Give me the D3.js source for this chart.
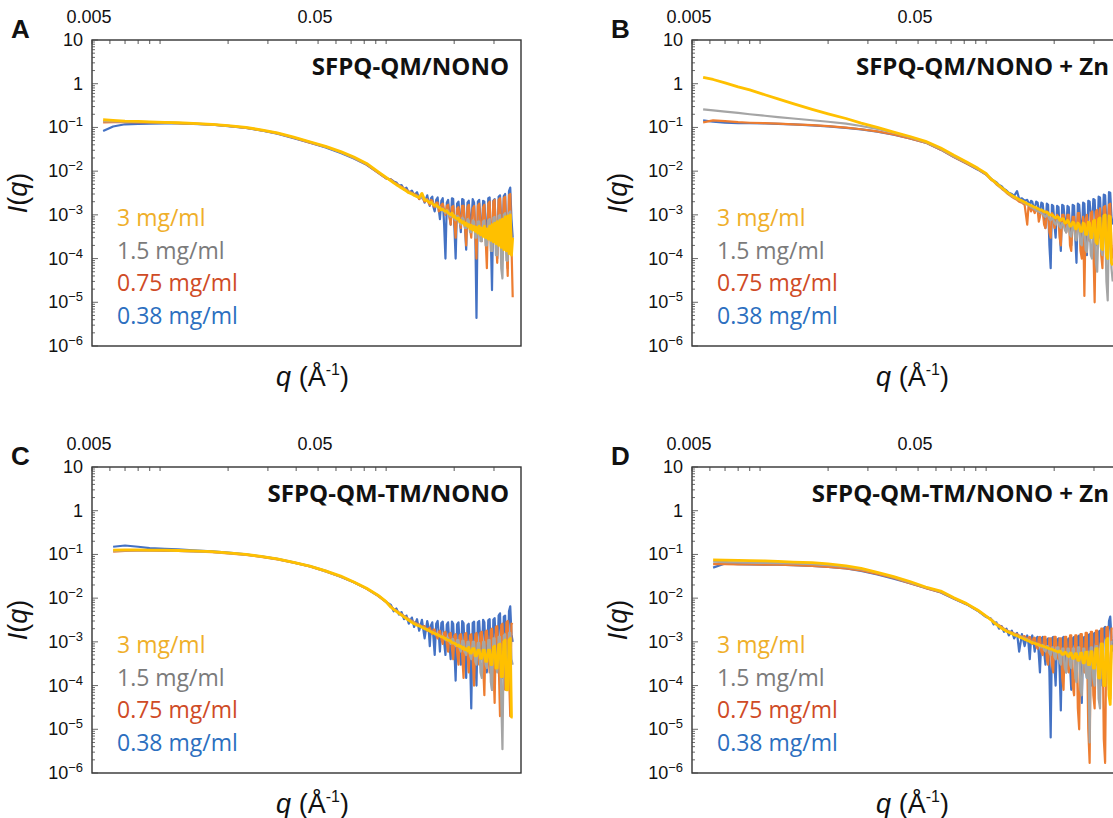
<!DOCTYPE html>
<html>
<head>
<meta charset="utf-8">
<script src="https://cdn.jsdelivr.net/npm/d3@7"></script>
<style>
  body { margin: 0; background: #fff; }
  svg { display: block; }
  .tick-label { font-family: "Liberation Sans", Arial, sans-serif; font-size: 18px; fill: #111; }
  .panel-letter { font-family: "Liberation Sans", Arial, sans-serif; font-size: 26px; font-weight: bold; fill: #111; }
  .panel-title { font-family: "Open Sans", sans-serif; font-size: 24px; font-weight: bold; fill: #111; }
  .legend-text { font-family: "Open Sans", sans-serif; font-size: 23px; }
  .axis-title { font-family: "Liberation Sans", Arial, sans-serif; font-size: 27px; fill: #111; }
</style>
</head>
<body>
<div id="chart"></div>
<script>
// scattering vector q (1/Å), shared by every curve
const qValues = [
  0.0056, 0.0062, 0.007, 0.008, 0.009, 0.0105, 0.012, 0.014, 0.017, 0.02,
  0.024, 0.028, 0.033, 0.039, 0.046, 0.054, 0.063, 0.072, 0.082, 0.092, 0.1,
  0.105, 0.108, 0.111, 0.114, 0.117, 0.12, 0.123, 0.126, 0.13, 0.133, 0.137, 0.14, 0.144, 0.148,
  0.152, 0.154, 0.156, 0.158, 0.16, 0.162, 0.164, 0.1665, 0.169, 0.171,
  0.173, 0.1755, 0.178, 0.1805, 0.183, 0.1855, 0.188, 0.1905, 0.193, 0.1955,
  0.198, 0.2005, 0.203, 0.206, 0.209, 0.2115, 0.214, 0.217, 0.22, 0.223,
  0.226, 0.229, 0.232, 0.235, 0.238, 0.2415, 0.245, 0.248, 0.251, 0.2545,
  0.258, 0.2615, 0.265, 0.2685, 0.272, 0.2755, 0.279, 0.283, 0.287, 0.2905,
  0.294, 0.298, 0.302, 0.306, 0.31, 0.3145, 0.319, 0.323, 0.327, 0.3315,
  0.336, 0.3405, 0.345, 0.3495, 0.354, 0.3585, 0.363
];

const seriesLabels = ["3 mg/ml", "1.5 mg/ml", "0.75 mg/ml", "0.38 mg/ml"];
const panelLetters = ["A", "B", "C", "D"];
const panelTitles = ["SFPQ-QM/NONO", "SFPQ-QM/NONO + Zn", "SFPQ-QM-TM/NONO", "SFPQ-QM-TM/NONO + Zn"];
const yTickValues = [10, 1, 1e-1, 1e-2, 1e-3, 1e-4, 1e-5, 1e-6];
const xTickLabels = [0.005, 0.05];

// Panel A: SFPQ-QM/NONO
const aYellow = [
  0.15, 0.145, 0.14, 0.137, 0.134, 0.131, 0.128, 0.124, 0.118, 0.11,
  0.1, 0.088, 0.075, 0.06, 0.047, 0.037, 0.028, 0.021, 0.015, 0.0098, 0.0072,
  6e-3, 5.4e-3, 4.9e-3, 4.5e-3, 4.1e-3, 3.8e-3, 3.5e-3, 3.2e-3, 3e-3, 2.8e-3, 2.6e-3, 2.5e-3, 3.1e-3, 2.2e-3,
  2.1e-3, 2e-3, 1.9e-3, 1.95e-3, 1.8e-3, 1.7e-3, 1.65e-3, 1.7e-3, 1.55e-3, 1.5e-3,
  1.45e-3, 1.3e-3, 1.35e-3, 1.25e-3, 1.2e-3, 1.25e-3, 1.1e-3, 1.05e-3, 1e-3, 1.1e-3,
  9e-4, 9.5e-4, 8.5e-4, 8e-4, 8.5e-4, 7e-4, 7.5e-4, 6.5e-4, 7e-4, 5.8e-4,
  6.5e-4, 5.5e-4, 6e-4, 4.8e-4, 5.8e-4, 4.5e-4, 5.5e-4, 4.2e-4, 5.2e-4, 3.8e-4,
  5.5e-4, 3.5e-4, 5e-4, 3.2e-4, 5.5e-4, 3e-4, 4.8e-4, 2.8e-4, 5.5e-4, 2.6e-4,
  6e-4, 2.4e-4, 6.5e-4, 2.2e-4, 7e-4, 2e-4, 7.5e-4, 1.8e-4, 8e-4, 1.6e-4,
  9e-4, 1.5e-4, 9.5e-4, 1.3e-4, 1e-3, 1.2e-4, 3e-4
];
const aGray = [
  0.14, 0.138, 0.136, 0.134, 0.132, 0.13, 0.127, 0.123, 0.117, 0.109,
  0.099, 0.087, 0.074, 0.059, 0.046, 0.036, 0.027, 0.02, 0.0145, 0.0095, 0.007,
  6.2e-3, 5.5e-3, 5e-3, 4.6e-3, 4.2e-3, 3.9e-3, 3.6e-3, 3.3e-3, 3.1e-3, 2.9e-3, 2.7e-3, 2.6e-3, 2.4e-3, 2.3e-3,
  2.2e-3, 2.05e-3, 2e-3, 1.85e-3, 1.9e-3, 1.7e-3, 1.75e-3, 1.55e-3, 1.6e-3, 1.45e-3,
  1.5e-3, 1.3e-3, 1.4e-3, 1.2e-3, 1.1e-3, 1.3e-3, 1.25e-3, 9.5e-4, 9e-4, 1.1e-3,
  1.05e-3, 8e-4, 7.5e-4, 9.5e-4, 9e-4, 6.5e-4, 6e-4, 8.5e-4, 8e-4, 5e-4,
  5e-4, 8e-4, 7.5e-4, 4e-4, 4e-4, 7.5e-4, 7e-4, 3e-4, 3e-4, 7e-4,
  7e-4, 2.5e-4, 2.5e-4, 7e-4, 7.5e-4, 2e-4, 2e-4, 7.5e-4, 8e-4, 1.5e-4,
  1.5e-4, 8.5e-4, 9e-4, 1.2e-4, 1.2e-4, 9.5e-4, 1e-3, 6e-5, 3.5e-5, 1e-3,
  1.1e-3, 9e-5, 9e-5, 1.1e-3, 1.2e-3, 2e-4, 2e-4
];
const aOrange = [
  0.13, 0.132, 0.132, 0.131, 0.13, 0.128, 0.126, 0.122, 0.116, 0.108,
  0.098, 0.086, 0.073, 0.058, 0.045, 0.036, 0.027, 0.02, 0.0142, 0.0093, 0.0068,
  6.4e-3, 5.6e-3, 5.2e-3, 4.7e-3, 4.4e-3, 4e-3, 3.7e-3, 3.4e-3, 3.2e-3, 3e-3, 2.8e-3, 2.3e-3, 2.6e-3, 2e-3,
  2.3e-3, 1.9e-3, 1.7e-3, 2.2e-3, 2.1e-3, 1.6e-3, 1.5e-3, 1.9e-3, 1.9e-3, 1.2e-3,
  1.3e-3, 1.7e-3, 1.8e-3, 1.3e-3, 1e-3, 1.6e-3, 1.7e-3, 9e-4, 6e-4, 1.5e-3,
  1.6e-3, 7e-4, 3e-4, 1.4e-3, 1.5e-3, 8e-4, 5e-4, 1.6e-3, 1.6e-3, 6e-4,
  2e-4, 1.5e-3, 1.7e-3, 5e-4, 3e-4, 1.4e-3, 1.6e-3, 4e-4, 1e-4, 1.6e-3,
  1.8e-3, 6e-4, 2.5e-4, 1.5e-3, 1.7e-3, 3e-4, 6e-5, 1.8e-3, 2e-3, 4e-4,
  1.5e-4, 2e-3, 2.2e-3, 3e-4, 8e-5, 2.2e-3, 2.4e-3, 5e-4, 1.2e-4, 2.4e-3,
  2.6e-3, 2e-4, 4e-5, 2.8e-3, 3e-3, 2e-4, 1.3e-5
];
const aBlue = [
  0.083, 0.105, 0.118, 0.12, 0.122, 0.123, 0.124, 0.12, 0.115, 0.107,
  0.097, 0.085, 0.072, 0.057, 0.045, 0.035, 0.026, 0.0195, 0.014, 0.0092, 0.0068,
  6.5e-3, 5.8e-3, 5.5e-3, 4.6e-3, 4.8e-3, 3.8e-3, 4.2e-3, 3.2e-3, 3.6e-3, 2.8e-3, 3.3e-3, 2.3e-3, 3e-3, 1.9e-3,
  2.8e-3, 2e-3, 1.6e-3, 2.4e-3, 2.6e-3, 1.5e-3, 1.2e-3, 2.2e-3, 2.5e-3, 1.3e-3,
  8e-4, 2.1e-3, 2.4e-3, 6e-4, 1e-4, 1.9e-3, 2.2e-3, 1e-3, 6e-4, 2.4e-3,
  2.3e-3, 5e-4, 1e-4, 1.8e-3, 2e-3, 9e-4, 4e-4, 2.3e-3, 2.2e-3, 6e-4,
  1.6e-4, 1.9e-3, 2.1e-3, 8e-4, 5e-4, 2.3e-3, 1.9e-3, 4e-4, 4.4e-6, 2e-3,
  2.2e-3, 7e-4, 3e-4, 2.1e-3, 2e-3, 6e-4, 2e-4, 2.4e-3, 2.5e-3, 3e-4,
  1.9e-5, 2.1e-3, 2.3e-3, 4e-4, 1e-4, 2.6e-3, 2.8e-3, 7e-4, 3e-4, 2.7e-3,
  3e-3, 4e-4, 6e-5, 3.5e-3, 4.2e-3, 8e-4, 3e-4
];

// Panel B: SFPQ-QM/NONO + Zn
const bYellow = [
  1.4, 1.25, 1.05, 0.85, 0.72, 0.56, 0.45, 0.35, 0.26, 0.205,
  0.16, 0.125, 0.1, 0.078, 0.062, 0.048, 0.034, 0.023, 0.0162, 0.0116, 0.0089,
  6.6e-3, 6e-3, 5.3e-3, 4.7e-3, 4.2e-3, 3.8e-3, 3.4e-3, 3.1e-3, 2.8e-3, 2.6e-3, 2.4e-3, 2.25e-3, 2.1e-3, 1.95e-3,
  1.8e-3, 1.75e-3, 1.7e-3, 1.62e-3, 1.6e-3, 1.52e-3, 1.5e-3, 1.45e-3, 1.4e-3, 1.35e-3,
  1.3e-3, 1.3e-3, 1.25e-3, 1.18e-3, 1.15e-3, 1.15e-3, 1.1e-3, 1e-3, 1e-3, 1e-3,
  9.5e-4, 8.8e-4, 8.5e-4, 9e-4, 8.8e-4, 7.5e-4, 7.6e-4, 8.2e-4, 8e-4, 6.5e-4,
  6.6e-4, 7.5e-4, 7e-4, 5.5e-4, 5.6e-4, 6.8e-4, 6.5e-4, 4.8e-4, 4.8e-4, 6.5e-4,
  6e-4, 4.2e-4, 4.2e-4, 6.5e-4, 6.2e-4, 3.6e-4, 3.6e-4, 6.8e-4, 6.5e-4, 3e-4,
  3e-4, 7.2e-4, 7.5e-4, 2.4e-4, 2.2e-4, 8e-4, 8.5e-4, 1.8e-4, 1.6e-4, 9.5e-4,
  1e-3, 1.2e-4, 1e-4, 9.5e-4, 9e-4, 8e-5, 7e-5
];
const bGray = [
  0.26, 0.245, 0.23, 0.215, 0.2, 0.185, 0.172, 0.16, 0.146, 0.135,
  0.122, 0.108, 0.092, 0.076, 0.06, 0.046, 0.032, 0.0215, 0.0155, 0.0112, 0.0086,
  6.5e-3, 5.9e-3, 5.2e-3, 4.6e-3, 4.1e-3, 3.7e-3, 3.3e-3, 3e-3, 2.7e-3, 2.5e-3, 2.3e-3, 2.2e-3, 2e-3, 1.85e-3,
  1.7e-3, 1.65e-3, 1.6e-3, 1.5e-3, 1.45e-3, 1.4e-3, 1.35e-3, 1.25e-3, 1.2e-3, 1.2e-3,
  1.15e-3, 1.1e-3, 1.05e-3, 9.5e-4, 9e-4, 1e-3, 9.5e-4, 8e-4, 7.5e-4, 8.5e-4,
  8e-4, 6.5e-4, 6e-4, 7.5e-4, 7e-4, 5.5e-4, 5e-4, 6.5e-4, 6e-4, 4.5e-4,
  4e-4, 5.8e-4, 5.5e-4, 3.5e-4, 3.2e-4, 5.5e-4, 5e-4, 2.8e-4, 2.6e-4, 5.5e-4,
  5.5e-4, 2.2e-4, 2e-4, 5e-4, 4.5e-4, 1.6e-4, 1.4e-4, 5e-4, 5e-4, 1.2e-4,
  1e-4, 5.5e-4, 6e-4, 8e-5, 5e-5, 6.5e-4, 7e-4, 1.5e-4, 1.2e-4, 6.5e-4,
  6e-4, 3e-5, 1.1e-5, 7e-4, 8e-4, 6e-5, 3e-5
];
const bOrange = [
  0.13, 0.145, 0.14, 0.132, 0.128, 0.125, 0.122, 0.118, 0.113, 0.107,
  0.099, 0.091, 0.081, 0.069, 0.056, 0.045, 0.031, 0.021, 0.015, 0.011, 0.0084,
  6.4e-3, 5.8e-3, 5e-3, 4.5e-3, 4e-3, 3.6e-3, 3.2e-3, 2.9e-3, 2.6e-3, 2.4e-3, 2.2e-3, 2e-3, 1.9e-3, 1.7e-3,
  6e-4, 1.6e-3, 1.5e-3, 1.2e-3, 1.5e-3, 1.3e-3, 1.1e-3, 1.4e-3, 1.3e-3, 7e-4,
  9e-4, 1.3e-3, 1.2e-3, 6e-4, 5e-4, 1.2e-3, 1.1e-3, 4e-4, 3e-4, 1.1e-3,
  1e-3, 5e-4, 6e-4, 1e-3, 9e-4, 3e-4, 2e-4, 1e-3, 1e-3, 5e-4,
  4e-4, 1e-3, 1e-3, 2e-4, 1.5e-4, 9e-4, 9e-4, 4e-4, 3e-4, 1.1e-3,
  1.1e-3, 1.5e-4, 1e-4, 9e-4, 1.4e-5, 8e-4, 1e-3, 3e-4, 2.5e-4, 1.1e-3,
  1.2e-3, 2e-4, 1e-5, 1.2e-3, 1.3e-3, 3e-4, 1.4e-3, 1.2e-4, 6e-5, 1.5e-3,
  1.6e-3, 3e-4, 2e-4, 1.7e-3, 1.8e-3, 2e-4, 1e-4
];
const bBlue = [
  0.145, 0.135, 0.128, 0.126, 0.125, 0.123, 0.12, 0.117, 0.112, 0.106,
  0.098, 0.09, 0.08, 0.068, 0.056, 0.045, 0.031, 0.021, 0.015, 0.0108, 0.0083,
  6.8e-3, 6e-3, 5.6e-3, 4.8e-3, 4.5e-3, 3.9e-3, 3.6e-3, 3.2e-3, 3e-3, 2.7e-3, 3.5e-3, 2.3e-3, 2.4e-3, 2.1e-3,
  2.2e-3, 1.9e-3, 1.7e-3, 2.1e-3, 2e-3, 1.5e-3, 1.4e-3, 2e-3, 1.9e-3, 1.2e-3,
  1.1e-3, 1.9e-3, 1.8e-3, 8e-4, 5e-4, 1.8e-3, 1.7e-3, 2e-4, 6e-5, 1.7e-3,
  1.6e-3, 6e-4, 3e-4, 1.6e-3, 1.5e-3, 4e-4, 1.5e-4, 1.7e-3, 1.6e-3, 7e-4,
  4e-4, 1.6e-3, 1.5e-3, 5e-4, 2e-4, 1.7e-3, 1.6e-3, 3e-4, 8e-5, 1.8e-3,
  1.7e-3, 6e-4, 3e-4, 1.9e-3, 1.8e-3, 4e-4, 1.2e-4, 2.1e-3, 2e-3, 8e-4,
  5e-4, 2.3e-3, 2.2e-3, 5e-4, 2e-4, 2.6e-3, 2.5e-3, 7e-4, 4e-4, 2.9e-3,
  2.8e-3, 6e-4, 3e-4, 3.3e-3, 3.2e-3, 9e-4, 6e-4
];

// Panel C: SFPQ-QM-TM/NONO
const cYellow = [
  null, 0.125, 0.127, 0.127, 0.126, 0.125, 0.123, 0.12, 0.116, 0.109,
  0.1, 0.09, 0.079, 0.066, 0.054, 0.042, 0.032, 0.0235, 0.0168, 0.0117, 0.0083,
  6.2e-3, 5.5e-3, 5e-3, 4.5e-3, 4.1e-3, 3.7e-3, 3.4e-3, 3.1e-3, 2.8e-3, 2.6e-3, 2.4e-3, 2.3e-3, 2.15e-3, 2e-3,
  1.9e-3, 1.85e-3, 1.75e-3, 1.7e-3, 1.65e-3, 1.6e-3, 1.55e-3, 1.5e-3, 1.45e-3, 1.4e-3,
  1.35e-3, 1.3e-3, 1.3e-3, 1.22e-3, 1.2e-3, 1.12e-3, 1.1e-3, 1.08e-3, 1.05e-3, 9.5e-4,
  9.5e-4, 9.2e-4, 9e-4, 8.2e-4, 8.5e-4, 7.8e-4, 8e-4, 7e-4, 7.5e-4, 6.6e-4,
  7e-4, 6.2e-4, 7.5e-4, 5.5e-4, 5.5e-4, 7e-4, 7e-4, 4.8e-4, 4.8e-4, 6.5e-4,
  6.5e-4, 4.2e-4, 4.2e-4, 6.5e-4, 6.5e-4, 3.6e-4, 3.6e-4, 6.5e-4, 6.5e-4, 3e-4,
  3e-4, 7.5e-4, 8e-4, 2.5e-4, 2.5e-4, 8.5e-4, 9e-4, 1.6e-4, 1.6e-4, 1e-3,
  1.1e-3, 8e-5, 8e-5, 1.1e-3, 1.2e-3, 1.9e-5, 1.9e-5
];
const cGray = [
  null, 0.12, 0.123, 0.124, 0.124, 0.123, 0.121, 0.118, 0.114, 0.107,
  0.099, 0.089, 0.078, 0.065, 0.053, 0.041, 0.031, 0.023, 0.0165, 0.0115, 0.0082,
  6.3e-3, 5.6e-3, 5.1e-3, 4.6e-3, 4.2e-3, 3.8e-3, 3.5e-3, 3.2e-3, 2.9e-3, 2.7e-3, 2.5e-3, 2.4e-3, 2.2e-3, 2.1e-3,
  1.9e-3, 1.85e-3, 1.8e-3, 1.7e-3, 1.7e-3, 1.65e-3, 1.6e-3, 1.5e-3, 1.5e-3, 1.45e-3,
  1.4e-3, 1.3e-3, 1.35e-3, 1.2e-3, 1.1e-3, 1.25e-3, 1.25e-3, 1e-3, 9e-4, 1.15e-3,
  1.15e-3, 9e-4, 8e-4, 1.1e-3, 1.1e-3, 7e-4, 6e-4, 1.05e-3, 1.05e-3, 6e-4,
  5e-4, 1e-3, 1e-3, 5e-4, 4e-4, 1e-3, 1e-3, 3.5e-4, 3e-4, 9.5e-4,
  9.5e-4, 2e-4, 1.5e-4, 1e-3, 1e-3, 3e-4, 2.5e-4, 1.1e-3, 1.1e-3, 1.2e-4,
  8e-5, 1.2e-3, 1.2e-3, 3e-4, 2e-4, 1.3e-3, 1.3e-3, 5e-5, 3.5e-6, 1.4e-3,
  1.5e-3, 2e-4, 1e-4, 1.6e-3, 1.6e-3, 4e-4, 3e-4
];
const cOrange = [
  null, 0.115, 0.12, 0.122, 0.122, 0.121, 0.12, 0.117, 0.113, 0.106,
  0.098, 0.088, 0.077, 0.065, 0.053, 0.041, 0.031, 0.023, 0.0163, 0.0113, 0.0081,
  6.4e-3, 5.7e-3, 5.2e-3, 4.7e-3, 4.3e-3, 3.9e-3, 3.6e-3, 3.3e-3, 3e-3, 2.8e-3, 2.6e-3, 2.5e-3, 2.2e-3, 2.3e-3,
  1.8e-3, 2e-3, 2.1e-3, 1.7e-3, 1.5e-3, 1.9e-3, 1.9e-3, 1.4e-3, 1.2e-3, 1.7e-3,
  1.8e-3, 1.2e-3, 9e-4, 1.6e-3, 1.7e-3, 9e-4, 6e-4, 1.5e-3, 1.6e-3, 7e-4,
  4e-4, 1.4e-3, 1.5e-3, 6e-4, 3e-4, 1.4e-3, 1.5e-3, 5e-4, 1.5e-4, 1.5e-3,
  1.6e-3, 6e-4, 2e-4, 1.4e-3, 1.5e-3, 4e-4, 1e-4, 1.5e-3, 1.6e-3, 7e-4,
  3e-4, 1.6e-3, 1.7e-3, 3e-4, 6e-5, 1.7e-3, 1.8e-3, 6e-4, 2e-4, 1.9e-3,
  2e-3, 3e-4, 4e-5, 2.2e-3, 2.3e-3, 4e-4, 2e-5, 2.4e-3, 2.6e-3, 5e-4,
  8e-5, 2.8e-3, 3e-3, 2e-4, 2e-5, 2.6e-3, 2.5e-3
];
const cBlue = [
  null, 0.15, 0.16, 0.15, 0.14, 0.134, 0.13, 0.124, 0.118, 0.11,
  0.1, 0.09, 0.079, 0.066, 0.054, 0.042, 0.031, 0.023, 0.0165, 0.0115, 0.0082,
  7e-3, 5e-3, 5.8e-3, 4.2e-3, 4.8e-3, 3.3e-3, 4e-3, 2.6e-3, 3.6e-3, 2.2e-3, 3.3e-3, 1.8e-3, 3.2e-3, 1.2e-3,
  3e-3, 2.2e-3, 8e-4, 2.4e-3, 2.8e-3, 1.2e-3, 5e-4, 2.6e-3, 3e-3, 1.5e-3,
  6e-4, 2.7e-3, 2.9e-3, 1e-3, 5e-4, 2.5e-3, 2.8e-3, 9e-4, 4e-4, 2.9e-3,
  2.6e-3, 6e-4, 1.3e-4, 2.5e-3, 2.8e-3, 8e-4, 3e-4, 3e-3, 2.7e-3, 6e-4,
  1.5e-4, 2.4e-3, 2.6e-3, 5e-4, 3e-5, 2.7e-3, 2.9e-3, 4e-4, 1e-4, 2.8e-3,
  3e-3, 9e-4, 4e-4, 3.2e-3, 2.8e-3, 6e-4, 2e-4, 3.1e-3, 3.3e-3, 4e-4,
  8e-5, 3.2e-3, 3.5e-3, 8e-4, 3e-4, 4e-3, 4.5e-3, 5e-4, 1.5e-4, 3.8e-3,
  4e-3, 6e-4, 3e-4, 5e-3, 6.5e-3, 1.5e-3, 1e-3
];

// Panel D: SFPQ-QM-TM/NONO + Zn
const dYellow = [
  null, 0.075, 0.074, 0.073, 0.072, 0.071, 0.069, 0.067, 0.065, 0.061,
  0.055, 0.048, 0.039, 0.031, 0.024, 0.018, 0.0145, 0.0102, 0.0075, 0.0053, 0.0039,
  3.2e-3, 2.8e-3, 2.5e-3, 2.25e-3, 2.05e-3, 1.9e-3, 1.75e-3, 1.65e-3, 1.55e-3, 1.45e-3, 1.38e-3, 1.3e-3, 1.22e-3, 1.15e-3,
  1.08e-3, 1.05e-3, 1.02e-3, 9.8e-4, 9.6e-4, 9.4e-4, 9.2e-4, 9e-4, 8.8e-4, 8.5e-4,
  8.3e-4, 8.2e-4, 8e-4, 7.8e-4, 7.6e-4, 7.4e-4, 7.2e-4, 7e-4, 6.8e-4, 6.8e-4,
  6.5e-4, 6.4e-4, 6.2e-4, 6e-4, 5.8e-4, 6.2e-4, 6e-4, 5.2e-4, 5.2e-4, 5.8e-4,
  5.6e-4, 4.8e-4, 4.6e-4, 5.5e-4, 5.5e-4, 4.2e-4, 4.2e-4, 5.4e-4, 5.4e-4, 3.8e-4,
  3.8e-4, 5.5e-4, 5.5e-4, 3.3e-4, 3.3e-4, 5.8e-4, 5.8e-4, 3e-4, 3e-4, 6e-4,
  6e-4, 2.5e-4, 2.5e-4, 7e-4, 7e-4, 1.5e-4, 1.5e-4, 9e-4, 9e-4, 1e-4,
  1e-4, 1.1e-3, 1.2e-3, 6e-5, 3.7e-5, 8e-4, 8e-4
];
const dGray = [
  null, 0.068, 0.067, 0.066, 0.065, 0.064, 0.063, 0.062, 0.06, 0.057,
  0.052, 0.046, 0.038, 0.03, 0.023, 0.0175, 0.014, 0.01, 0.0074, 0.0052, 0.0038,
  3.3e-3, 2.9e-3, 2.6e-3, 2.3e-3, 2.1e-3, 1.95e-3, 1.8e-3, 1.7e-3, 1.6e-3, 1.5e-3, 1.42e-3, 1.35e-3, 1.3e-3, 1.2e-3,
  1.15e-3, 1.1e-3, 1.05e-3, 1e-3, 1e-3, 9.5e-4, 9.5e-4, 8.8e-4, 9e-4, 8.2e-4,
  8.5e-4, 7.5e-4, 8.5e-4, 6.5e-4, 6e-4, 8e-4, 8e-4, 5.5e-4, 5e-4, 7.5e-4,
  7.5e-4, 4.5e-4, 4e-4, 7.5e-4, 7.5e-4, 3.5e-4, 3e-4, 7e-4, 7e-4, 2.5e-4,
  2e-4, 7e-4, 7e-4, 3e-4, 2.5e-4, 7e-4, 7e-4, 1.5e-4, 1.2e-4, 7.5e-4,
  7.5e-4, 8e-5, 6e-5, 7e-4, 7e-4, 2e-4, 1.5e-4, 6e-4, 5e-6, 7.5e-4,
  7.5e-4, 1.5e-4, 1e-4, 8e-4, 8e-4, 5e-5, 3e-5, 8.5e-4, 8.5e-4, 2e-4,
  1.5e-4, 9e-4, 9e-4, 8e-5, 6e-5, 1e-3, 1e-3
];
const dOrange = [
  null, 0.06, 0.06, 0.059, 0.059, 0.058, 0.058, 0.057, 0.055, 0.052,
  0.048, 0.043, 0.036, 0.029, 0.022, 0.017, 0.0137, 0.0098, 0.0073, 0.0052, 0.0038,
  3.3e-3, 2.9e-3, 2.6e-3, 2.4e-3, 2.2e-3, 2e-3, 1.85e-3, 1.75e-3, 1.65e-3, 1.55e-3, 1.5e-3, 1.4e-3, 1.3e-3, 1.35e-3,
  1.1e-3, 1.25e-3, 1.3e-3, 1e-3, 9e-4, 1.2e-3, 1.25e-3, 8e-4, 7e-4, 1.25e-3,
  1.3e-3, 6e-4, 5e-4, 1.3e-3, 1.3e-3, 4e-4, 3e-4, 1.2e-3, 1.2e-3, 3e-4,
  2e-4, 1.3e-3, 1.3e-3, 5e-4, 4e-4, 1.2e-3, 1.2e-3, 1.5e-4, 8e-5, 1.3e-3,
  1.3e-3, 3e-4, 2e-4, 1.4e-3, 1.4e-3, 1e-4, 6e-5, 1.4e-3, 1.4e-3, 3e-5,
  1e-5, 1.5e-3, 1.5e-3, 3e-4, 2e-4, 1.6e-3, 1.6e-3, 1e-5, 1.7e-6, 1.7e-3,
  1.7e-3, 6e-5, 3e-5, 1.8e-3, 1.8e-3, 2e-4, 1e-4, 2e-3, 2e-3, 6e-6,
  1.7e-6, 2.1e-3, 2.2e-3, 8e-5, 5e-5, 2e-3, 2e-3
];
const dBlue = [
  null, 0.05, 0.062, 0.06, 0.059, 0.058, 0.058, 0.057, 0.055, 0.052,
  0.048, 0.042, 0.035, 0.028, 0.022, 0.017, 0.0135, 0.0097, 0.0072, 0.0051, 0.0037,
  3.4e-3, 2.5e-3, 2.8e-3, 2e-3, 2.3e-3, 1.7e-3, 2e-3, 1.4e-3, 1.8e-3, 1.2e-3, 1.6e-3, 6e-4, 1.5e-3, 8e-4,
  1.4e-3, 9e-4, 4e-4, 1.2e-3, 1.4e-3, 1e-3, 6e-4, 1.2e-3, 1.3e-3, 5e-4,
  2e-4, 1.2e-3, 1.3e-3, 6e-4, 3e-4, 1.1e-3, 1.2e-3, 2e-4, 6.5e-6, 1.2e-3,
  1.3e-3, 3e-4, 1e-4, 1.1e-3, 1.2e-3, 2e-4, 2.7e-5, 1.2e-3, 1.3e-3, 5e-4,
  2e-4, 1.1e-3, 1.2e-3, 3e-4, 8e-5, 1.2e-3, 1.3e-3, 6e-4, 3e-4, 1.3e-3,
  1.4e-3, 2e-4, 4e-5, 1.2e-3, 1.3e-3, 4e-4, 1.5e-4, 1.4e-3, 1.5e-3, 3e-4,
  1e-4, 1.5e-3, 1.6e-3, 6e-4, 3e-4, 1.7e-3, 1.8e-3, 3e-4, 1e-4, 2e-3,
  2.2e-3, 8e-4, 5e-4, 3e-3, 3.8e-3, 1.2e-3, 6e-4
];

// colours, in legend order (3, 1.5, 0.75, 0.38 mg/ml)
const lineColors = ["#FFC000", "#A5A5A5", "#ED7D31", "#4472C4"];
const lineWidths = [2.8, 2.2, 2.2, 2.2];
const textColors = ["#EFAF2A", "#7B7B7B", "#CF4B26", "#2C6FBF"];

const panelSeries = [
  [aYellow, aGray, aOrange, aBlue],
  [bYellow, bGray, bOrange, bBlue],
  [cYellow, cGray, cOrange, cBlue],
  [dYellow, dGray, dOrange, dBlue]
];
const panelOrigins = [[92, 40], [692, 40], [92, 467], [692, 467]];

panelSeries.forEach((s, p) => s.forEach((arr, k) => {
  if (arr.length !== qValues.length) throw new Error(`panel ${p} series ${k}: ${arr.length} vs ${qValues.length}`);
}));

const W = 429, H = 306;

const svg = d3.select("#chart")
  .append("svg")
  .attr("width", 1113)
  .attr("height", 818);

const x = d3.scaleLog().domain([0.005, 0.395]).range([0, W]);
const y = d3.scaleLog().domain([1e-6, 10]).range([H, 0]);

const line = d3.line()
  .defined(d => d.I != null)
  .x(d => x(d.q))
  .y(d => y(d.I));

panelSeries.forEach((series, p) => {
  const [ox, oy] = panelOrigins[p];
  const g = svg.append("g").attr("transform", `translate(${ox},${oy})`);

  g.append("clipPath").attr("id", `clip${p}`)
    .append("rect").attr("width", W).attr("height", H);

  // curves: blue underneath, yellow on top
  const plot = g.append("g").attr("clip-path", `url(#clip${p})`);
  [3, 2, 1, 0].forEach(k => {
    const pts = qValues.map((q, i) => ({ q: q, I: series[k][i] }));
    plot.append("path")
      .datum(pts)
      .attr("fill", "none")
      .attr("stroke", lineColors[k])
      .attr("stroke-width", lineWidths[k])
      .attr("stroke-linejoin", "round")
      .attr("d", line);
  });

  // frame
  g.append("rect")
    .attr("width", W).attr("height", H)
    .attr("fill", "none").attr("stroke", "#333").attr("stroke-width", 1.4);

  // left ticks (inward)
  y.ticks().forEach(v => {
    const major = Math.abs(Math.log10(v) - Math.round(Math.log10(v))) < 1e-6;
    g.append("line")
      .attr("x1", 0).attr("x2", major ? 6 : 3)
      .attr("y1", y(v)).attr("y2", y(v))
      .attr("stroke", "#444").attr("stroke-width", 0.8);
  });

  // top ticks (inward)
  x.ticks().forEach(v => {
    g.append("line")
      .attr("x1", x(v)).attr("x2", x(v))
      .attr("y1", 0).attr("y2", 4)
      .attr("stroke", "#444").attr("stroke-width", 0.9);
  });

  // y tick labels
  yTickValues.forEach(v => {
    const e = Math.round(Math.log10(v));
    const t = g.append("text")
      .attr("class", "tick-label")
      .attr("x", -9)
      .attr("y", y(v) + 6)
      .attr("text-anchor", "end");
    if (e === 1) t.text("10");
    else if (e === 0) t.text("1");
    else {
      t.append("tspan").text("10");
      t.append("tspan").attr("font-size", "13px").attr("dy", -7).text("\u2212" + (-e));
    }
  });

  // top q labels
  xTickLabels.forEach(v => {
    g.append("text")
      .attr("class", "tick-label")
      .attr("x", x(v) - 3)
      .attr("y", -17)
      .attr("text-anchor", "middle")
      .text(String(v));
  });

  g.append("text")
    .attr("class", "panel-letter")
    .attr("x", -81).attr("y", -2)
    .text(panelLetters[p]);

  g.append("text")
    .attr("class", "panel-title")
    .attr("x", W - 12).attr("y", 35)
    .attr("text-anchor", "end")
    .text(panelTitles[p]);

  // legend
  seriesLabels.forEach((lab, k) => {
    g.append("text")
      .attr("class", "legend-text")
      .attr("x", 25)
      .attr("y", 186 + k * 32.5)
      .attr("fill", textColors[k])
      .text(lab);
  });

  // axis titles
  const yt = g.append("text")
    .attr("class", "axis-title")
    .attr("transform", `translate(-65,${H / 2}) rotate(-90)`)
    .attr("text-anchor", "middle");
  yt.append("tspan").attr("font-style", "italic").text("I");
  yt.append("tspan").text("(");
  yt.append("tspan").attr("font-style", "italic").text("q");
  yt.append("tspan").text(")");

  const xt = g.append("text")
    .attr("class", "axis-title")
    .attr("x", W / 2 + 6)
    .attr("y", H + 40)
    .attr("text-anchor", "middle");
  xt.append("tspan").attr("font-style", "italic").text("q");
  xt.append("tspan").text(" (Å");
  xt.append("tspan").attr("font-size", "16px").attr("dy", -11).text("-1");
  xt.append("tspan").attr("dy", 11).text(")");
});
</script>
</body>
</html>
